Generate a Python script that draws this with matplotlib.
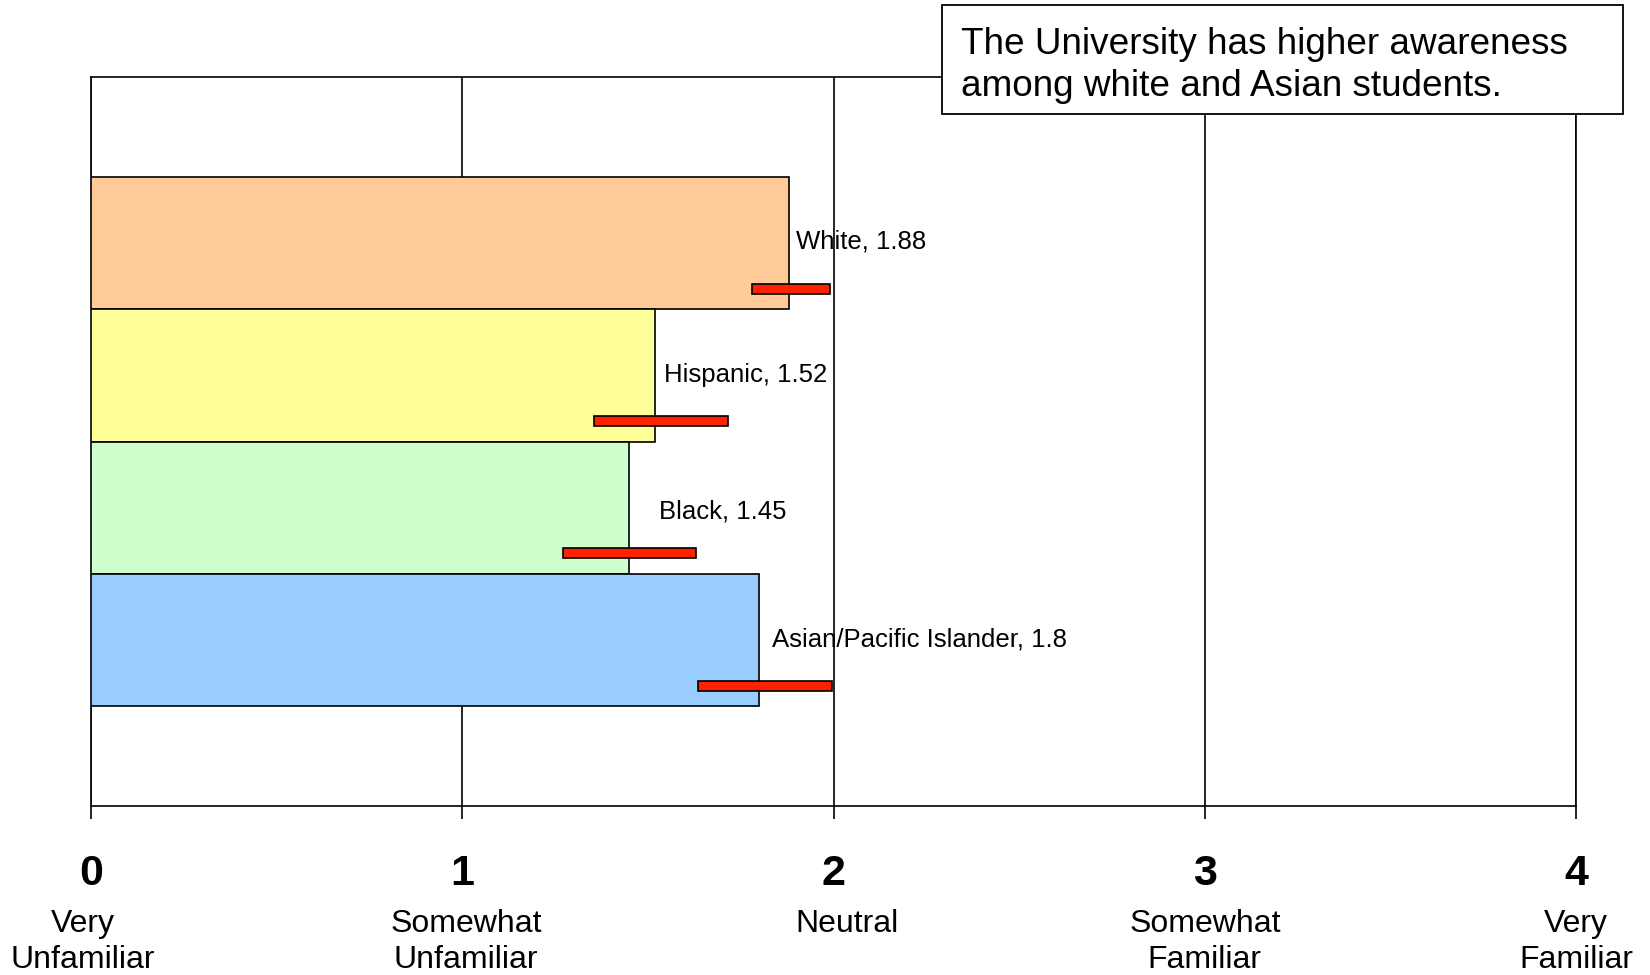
import matplotlib

matplotlib.use("Agg")
import matplotlib.pyplot as plt
from matplotlib.patches import Rectangle

# data
groups = ["White", "Hispanic", "Black", "Asian/Pacific Islander"]
means = [1.88, 1.52, 1.45, 1.8]
err_low = [1.78, 1.355, 1.27, 1.635]
err_high = [1.99, 1.715, 1.63, 1.995]
bar_colors = ["#FFCC99", "#FFFF99", "#CCFFCC", "#99CCFF"]

scale_values = [0, 1, 2, 3, 4]
scale_labels = [
    "Very\nUnfamiliar",
    "Somewhat\nUnfamiliar",
    "Neutral",
    "Somewhat\nFamiliar",
    "Very\nFamiliar",
]
note = "The University has higher awareness\namong white and Asian students."

plt.rcParams["font.family"] = ["Liberation Sans", "DejaVu Sans"]

fig = plt.figure(figsize=(16.5, 9.75), dpi=100)
ax = fig.add_axes([0.0552, 0.1733, 0.9, 0.7477])

ypos = list(range(len(groups)))
ax.barh(ypos, means, height=1.0, color=bar_colors, edgecolor="black",
        linewidth=1.2, zorder=3)

# red range markers below each bar centre
err_y = [y + 0.345 for y in ypos]
err_w = [h - l for l, h in zip(err_low, err_high)]
ax.barh(err_y, err_w, left=err_low, height=0.075, color="#FF2200",
        edgecolor="black", linewidth=1.2, zorder=4)

# label placement nudges (points), as in the original slide
label_nudge = [(5, 1), (6, 0), (21, -3), (9, 0)]
for y, g, v, (dx, dy) in zip(ypos, groups, means, label_nudge):
    ax.annotate(f"{g}, {v:g}", xy=(v, y), xytext=(dx, dy),
                textcoords="offset points", ha="left", va="center",
                fontsize=18.5, color="black", zorder=5)

ax.set_xlim(0, 4)
ax.set_ylim(len(groups) - 0.5 + 0.756, -0.5 - 0.756)
ax.set_yticks([])
ax.set_xticks(scale_values)
ax.set_xticklabels([])
ax.tick_params(axis="x", direction="out", length=9, width=1.2, color="black")
ax.grid(axis="x", color="black", linewidth=1.2, zorder=0)
ax.set_axisbelow(True)
for side in ["left", "top", "bottom", "right"]:
    ax.spines[side].set_linewidth(1.2)
    ax.spines[side].set_color("black")

offsets = [-0.022, 0.01, 0.035, 0.0, 0.0]
for v, lab, off in zip(scale_values, scale_labels, offsets):
    ax.annotate(str(v), xy=(v, 0), xycoords=("data", "axes fraction"),
                xytext=(0, -49), textcoords="offset points", ha="center",
                va="center", fontsize=31, fontweight="bold",
                annotation_clip=False)
    ax.annotate(lab, xy=(v + off, 0), xycoords=("data", "axes fraction"),
                xytext=(0, -74), textcoords="offset points", ha="center",
                va="top", fontsize=23, linespacing=1.25,
                annotation_clip=False)

# call-out box in the top right
box = Rectangle((0.5709, 0.8831), 0.4127, 0.1118, transform=fig.transFigure,
                facecolor="white", edgecolor="black", linewidth=1.3,
                zorder=10)
fig.patches.append(box)
fig.text(0.5824, 0.9326, note, ha="left", va="center", fontsize=26.6,
         linespacing=1.28, zorder=11)

fig.savefig("out.png", dpi=100, facecolor="white")
